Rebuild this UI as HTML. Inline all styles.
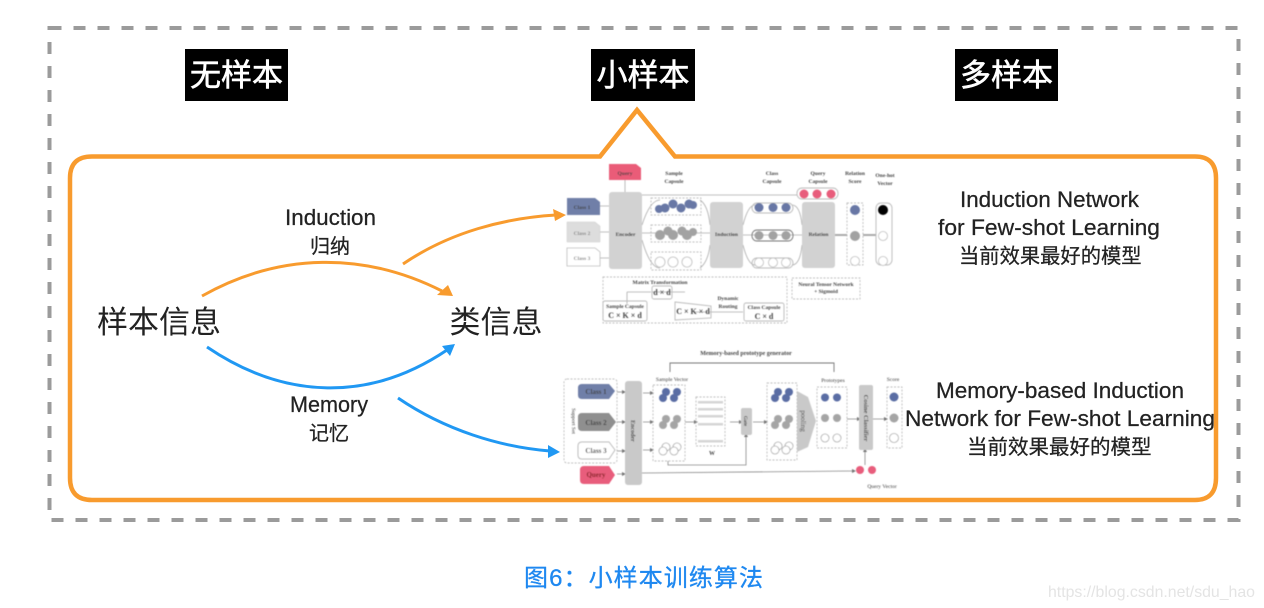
<!DOCTYPE html>
<html><head><meta charset="utf-8"><style>
html,body{margin:0;padding:0;background:#fff;width:1264px;height:608px;overflow:hidden}
svg{display:block}
text{font-family:"Liberation Sans","Noto Sans CJK SC",sans-serif}
.tiny text{font-family:"Liberation Serif","Noto Serif CJK SC",serif;fill:#444;text-anchor:middle;font-size:5.5px;font-weight:bold}
</style></head><body>
<svg width="1264" height="608" viewBox="0 0 1264 608" xmlns="http://www.w3.org/2000/svg">
<defs><filter id="b" x="-5%" y="-5%" width="110%" height="110%"><feGaussianBlur stdDeviation="0.55"/></filter></defs>
<rect x="49.500" y="28" width="1189" height="492" fill="none" stroke="#9b9b9b" stroke-width="4" stroke-dasharray="12 12"/>
<rect x="185" y="49" width="103" height="52" fill="#000"/>
<rect x="591" y="49" width="104" height="52" fill="#000"/>
<rect x="955" y="49" width="103" height="52" fill="#000"/>
<g fill="#fff" stroke="#fff" stroke-width="0.600" font-size="31" text-anchor="middle">
<text x="236.500" y="86">无样本</text><text x="643" y="86">小样本</text><text x="1006.500" y="86">多样本</text></g>
<path d="M92 156.500H600L637 110L675 156.500H1195Q1216 156.500 1216 178V478Q1216 500 1195 500H92Q70 500 70 478V178Q70 156.500 92 156.500Z" fill="none" stroke="#f89b2e" stroke-width="4.500" stroke-linejoin="miter"/>

<g fill="#222">
<text x="159" y="333" font-size="31" text-anchor="middle">样本信息</text>
<text x="496" y="333" font-size="31" text-anchor="middle">类信息</text>
</g>
<g fill="#222" stroke="#222" stroke-width="0.250" font-size="22">
<text x="285" y="225" textLength="91" lengthAdjust="spacingAndGlyphs">Induction</text>
<text x="310" y="253" font-size="20">归纳</text>
<text x="290" y="412" textLength="78" lengthAdjust="spacingAndGlyphs">Memory</text>
<text x="309" y="440" font-size="20">记忆</text>
<text x="960" y="207" textLength="179" lengthAdjust="spacingAndGlyphs">Induction Network</text>
<text x="938" y="235" textLength="222" lengthAdjust="spacingAndGlyphs">for Few-shot Learning</text>
<text x="959" y="263" font-size="20.300">当前效果最好的模型</text>
<text x="936" y="398" textLength="248" lengthAdjust="spacingAndGlyphs">Memory-based Induction</text>
<text x="905" y="426" textLength="310" lengthAdjust="spacingAndGlyphs">Network for Few-shot Learning</text>
<text x="967" y="454" font-size="20.500">当前效果最好的模型</text>
</g>

<g fill="none" stroke-width="3">
<path d="M202 296C280 252 365 252 442 291" stroke="#f89b2e"/>
<path d="M403 264C450 232 505 218 556 215" stroke="#f89b2e"/>
<path d="M207 347C285 400 370 402 447 350" stroke="#2098f3"/>
<path d="M398 398C445 430 500 447 550 451" stroke="#2098f3"/>
</g>
<path d="M453 296L448 285L437 295Z" fill="#f89b2e"/>
<path d="M566 215L553 209L555 221Z" fill="#f89b2e"/>
<path d="M455 344L442 346L450 356Z" fill="#2098f3"/>
<path d="M560 452L548 445L548 458Z" fill="#2098f3"/>

<g filter="url(#b)">
<!-- Top network -->
<g stroke="#aaa" stroke-width="0.800" fill="none">
<path d="M642 195H797"/><path d="M625 180V192"/>
<path d="M600 206H609M600 232H609M600 258H609"/>
<path d="M642 233H710M743 235H802"/>
<path d="M642 225Q650 200 660 200M642 240Q650 268 660 268"/>
<path d="M700 200Q708 205 710 225M700 268Q708 262 710 245"/>
<path d="M743 225Q748 205 755 205M743 245Q748 265 755 265"/>
<path d="M792 205Q800 205 802 225M792 265Q800 265 802 245"/>
<path d="M835 235H847M863 235H876" stroke-width="2"/>
<path d="M627 292H651V292M627 292V304M685 292H652M693 312H743M691 320"/>
</g>
<rect x="609" y="192" width="33" height="77" rx="3" fill="#d2d2d2"/>
<rect x="710" y="202" width="33" height="66" rx="3" fill="#d2d2d2"/>
<rect x="802" y="202" width="33" height="66" rx="3" fill="#d2d2d2"/>
<path d="M609 164H636L641 168V180H609Z" fill="#ea5c78"/>
<path d="M567 198H595L600 202V215H567Z" fill="#6f7fa8"/>
<path d="M567 222H595L600 226V242H567Z" fill="#ddd" stroke="#ccc" stroke-width="0.500"/>
<path d="M567 248H595L600 252V266H567Z" fill="#fff" stroke="#bbb" stroke-width="0.800"/>
<g fill="none" stroke="#aaa" stroke-width="0.700" stroke-dasharray="2 1.500">
<rect x="651" y="198" width="50" height="17"/><rect x="651" y="225" width="50" height="17"/><rect x="651" y="252" width="50" height="18"/>
<rect x="603" y="277" width="184" height="46"/><rect x="792" y="278" width="68" height="21"/>
<rect x="847" y="203" width="16" height="62"/>
</g>
<g fill="none" stroke="#bbb" stroke-width="0.900">
<rect x="752" y="203" width="41" height="10" rx="5"/><rect x="752" y="230" width="41" height="11" rx="5" stroke="#777"/><rect x="752" y="258" width="41" height="10" rx="5"/>
<rect x="797" y="188" width="41" height="11" rx="5"/>
<rect x="876" y="203" width="16" height="62" rx="5"/>
<rect x="603" y="301" width="44" height="20" rx="2"/><rect x="652" y="286" width="20" height="13" rx="2"/>
<path d="M675 302L711 306V318L675 320Z"/><rect x="744" y="303" width="40" height="18" rx="2"/>
</g>
<g fill="#6777a5"><circle cx="665" cy="208" r="4.500"/><circle cx="673" cy="204" r="4.500"/><circle cx="681" cy="208" r="4.500"/><circle cx="689" cy="204" r="4.500"/><circle cx="659" cy="209" r="4"/><circle cx="693" cy="205" r="4"/>
<circle cx="759" cy="207.500" r="4.500"/><circle cx="773" cy="207.500" r="4.500"/><circle cx="786" cy="207.500" r="4.500"/><circle cx="855" cy="210" r="5"/></g>
<g fill="#a2a2a2"><circle cx="660" cy="235" r="5"/><circle cx="673" cy="235" r="5"/><circle cx="687" cy="235" r="5"/><circle cx="668" cy="231" r="4.500"/><circle cx="682" cy="231" r="4.500"/><circle cx="693" cy="232" r="4"/>
<circle cx="759" cy="235.500" r="4.500"/><circle cx="773" cy="235.500" r="4.500"/><circle cx="786" cy="235.500" r="4.500"/><circle cx="855" cy="236" r="5"/></g>
<g fill="#fff" stroke="#bbb" stroke-width="0.800"><circle cx="660" cy="262" r="5"/><circle cx="673" cy="262" r="5"/><circle cx="687" cy="262" r="5"/>
<circle cx="759" cy="262.500" r="4.500"/><circle cx="773" cy="262.500" r="4.500"/><circle cx="786" cy="262.500" r="4.500"/><circle cx="855" cy="261" r="4.500"/><circle cx="883" cy="236" r="4.500"/><circle cx="883" cy="261" r="4.500"/></g>
<g fill="#e85d7c"><circle cx="804" cy="194" r="4.500"/><circle cx="817" cy="194" r="4.500"/><circle cx="831" cy="194" r="4.500"/></g>
<circle cx="883" cy="210" r="5" fill="#000"/>
<g class="tiny">
<text x="625" y="175" fill="#a33" font-size="5">Query</text>
<text x="582" y="209">Class 1</text><text x="582" y="235" style="fill:#888">Class 2</text><text x="582" y="260" style="fill:#888">Class 3</text>
<text x="674" y="175">Sample</text><text x="674" y="183">Capsule</text>
<text x="772" y="175">Class</text><text x="772" y="183">Capsule</text>
<text x="818" y="175">Query</text><text x="818" y="183">Capsule</text>
<text x="855" y="175">Relation</text><text x="855" y="183">Score</text>
<text x="885" y="177">One-hot</text><text x="885" y="185">Vector</text>
<text x="625.500" y="236" style="fill:#222">Encoder</text><text x="726.500" y="236" style="fill:#222">Induction</text><text x="818.500" y="236" style="fill:#222">Relation</text>
<text x="660" y="284">Matrix Transformation</text>
<text x="662" y="295" font-size="8" style="font-size:8px">d × d</text>
<text x="625" y="308">Sample Capsule</text><text x="625" y="318" style="font-size:8px">C × K × d</text>
<text x="693" y="314" style="font-size:8px">C × K × d</text>
<text x="728" y="300">Dynamic</text><text x="728" y="308">Routing</text>
<text x="764" y="309">Class Capsule</text><text x="764" y="319" style="font-size:8px">C × d</text>
<text x="826" y="286">Neural Tensor Network</text><text x="826" y="293">+ Sigmoid</text>
</g>

<!-- Bottom network -->
<path d="M670 372V363H834V372" fill="none" stroke="#777" stroke-width="0.900"/>
<g fill="none" stroke="#888" stroke-width="0.800">
<path d="M617 392H624M617 422H624M617 451H624M617 474H624"/>
<path d="M643 393H651M643 422H651M643 450H651"/>
<path d="M685 422H695M730 422H740M753 422H765"/>
<path d="M668 461V465H746V436"/>
<path d="M642 473L853 471"/>
<path d="M873 419H857M847 419H858M873 419H885"/>
<path d="M865 465V451"/>
</g>
<g fill="#777"><path d="M622 390L626 392L622 394ZM622 420L626 422L622 424ZM622 449L626 451L622 453ZM622 472L626 474L622 476Z"/>
<path d="M650 391L654 393L650 395ZM650 420L654 422L650 424ZM650 448L654 450L650 452Z"/>
<path d="M694 420L698 422L694 424ZM739 420L743 422L739 424ZM764 420L768 422L764 424ZM857 417L861 419L857 421ZM884 417L888 419L884 421ZM852 469L856 471L852 473ZM863 452L865 448L867 452ZM744 437L746 433L748 437Z"/></g>
<g fill="none" stroke="#aaa" stroke-width="0.700" stroke-dasharray="2 1.500">
<rect x="564" y="379" width="53" height="84" rx="3"/><rect x="653" y="385" width="32" height="76"/><rect x="696" y="397" width="29" height="49"/>
<rect x="767" y="383" width="30" height="77"/><rect x="817" y="387" width="30" height="61"/><rect x="887" y="387" width="15" height="61"/>
</g>
<path d="M578 388Q578 384 582 384H609L615 391L609 399H582Q578 399 578 395Z" fill="#6f7fa8"/>
<path d="M578 417Q578 413 582 413H609L616 422L609 431H582Q578 431 578 427Z" fill="#8f8f8f"/>
<path d="M578 446Q578 442 582 442H609L615 450L609 459H582Q578 459 578 455Z" fill="#fff" stroke="#bbb"/>
<path d="M580 470Q580 466 584 466H609L615 475L609 484H584Q580 484 580 480Z" fill="#e85d7c"/>
<rect x="625" y="381" width="17" height="104" rx="3" fill="#c9c9c9"/>
<rect x="741" y="408" width="11" height="27" rx="2" fill="#c9c9c9"/>
<path d="M797 391L808 397L816 421L808 447L797 452Z" fill="#c9c9c9"/>
<rect x="859" y="385" width="14" height="65" rx="2" fill="#c9c9c9"/>
<g fill="#d5d5d5"><rect x="698" y="401" width="25" height="2.500"/><rect x="698" y="408" width="25" height="2.500"/><rect x="698" y="415" width="25" height="2.500"/><rect x="698" y="423" width="25" height="2.500"/><rect x="698" y="440" width="25" height="2.500"/></g>
<g fill="#5a6da4"><circle cx="666" cy="392" r="4"/><circle cx="677" cy="392" r="4"/><circle cx="663" cy="398" r="4"/><circle cx="674" cy="398" r="4"/>
<circle cx="778" cy="392" r="4"/><circle cx="789" cy="392" r="4"/><circle cx="775" cy="398" r="4"/><circle cx="786" cy="398" r="4"/>
<circle cx="825" cy="397.500" r="4"/><circle cx="837" cy="397.500" r="4"/><circle cx="894" cy="397" r="4.500"/></g>
<g fill="#a5a5a5"><circle cx="666" cy="419" r="4"/><circle cx="677" cy="419" r="4"/><circle cx="663" cy="425" r="4"/><circle cx="674" cy="425" r="4"/>
<circle cx="778" cy="419" r="4"/><circle cx="789" cy="419" r="4"/><circle cx="775" cy="425" r="4"/><circle cx="786" cy="425" r="4"/>
<circle cx="825" cy="418" r="4"/><circle cx="837" cy="418" r="4"/><circle cx="894" cy="418" r="4.500"/></g>
<g fill="#fff" stroke="#aaa" stroke-width="0.800"><circle cx="666" cy="447" r="4"/><circle cx="677" cy="447" r="4"/><circle cx="663" cy="451" r="4"/><circle cx="674" cy="451" r="4"/>
<circle cx="778" cy="446" r="4"/><circle cx="789" cy="446" r="4"/><circle cx="775" cy="450" r="4"/><circle cx="786" cy="450" r="4"/>
<circle cx="825" cy="438" r="4"/><circle cx="837" cy="438" r="4"/><circle cx="894" cy="438" r="4.500"/></g>
<g fill="#e85d7c"><circle cx="860" cy="470" r="4"/><circle cx="872" cy="470" r="4"/></g>
<g class="tiny">
<text x="746" y="355" style="font-size:6px">Memory-based prototype generator</text>
<text x="672" y="381" style="font-weight:normal">Sample Vector</text>
<text x="833" y="382" style="font-weight:normal">Prototypes</text>
<text x="893" y="381" style="font-weight:normal">Score</text>
<text x="882" y="488" style="font-weight:normal">Query Vector</text>
<text x="596" y="394" style="font-size:7px">Class 1</text><text x="596" y="425" style="font-size:7px">Class 2</text><text x="596" y="453" style="font-size:7px">Class 3</text><text x="596" y="477" style="font-size:7px;fill:#822">Query</text>
<text x="712" y="455" style="font-size:6px">W</text>
<text transform="translate(572,421) rotate(90)" style="font-weight:normal">Support Set</text>
<text transform="translate(631,431) rotate(90)" style="font-size:6px">Encoder</text>
<text transform="translate(744,421) rotate(90)" style="font-size:5px">Gate</text>
<text transform="translate(801,421) rotate(90)" style="font-size:7px;font-weight:normal">pooling</text>
<text transform="translate(864,418) rotate(90)" style="font-size:6.500px">Cosine Classifier</text>
</g>
</g>

<text x="524" y="586" font-size="24" fill="#1e88f0" stroke="#1e88f0" stroke-width="0.300" textLength="239" lengthAdjust="spacing">图6：小样本训练算法</text>
<text x="1048" y="597" font-size="16" fill="#e4e4e4" textLength="207" lengthAdjust="spacingAndGlyphs">https://blog.csdn.net/sdu_hao</text>
</svg>
</body></html>
